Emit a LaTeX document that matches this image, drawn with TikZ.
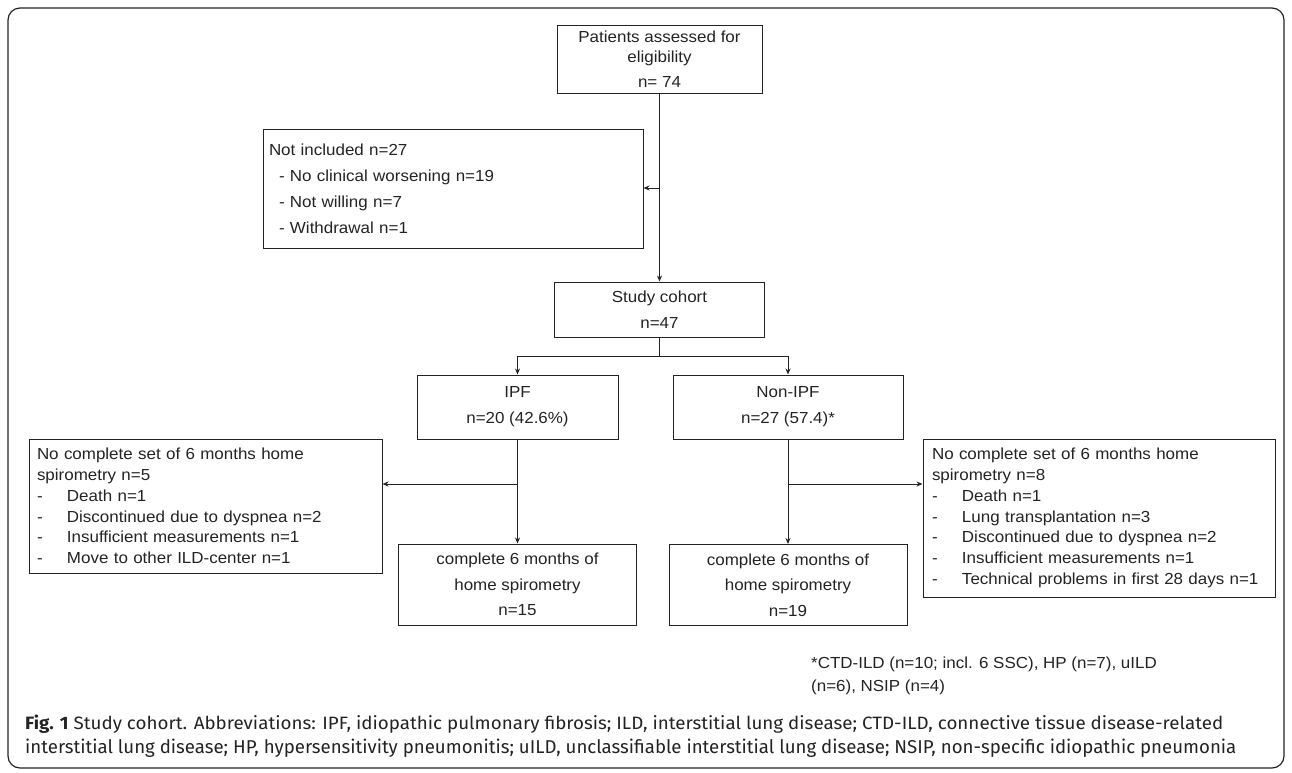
\documentclass[tikz,border=0pt]{standalone}
\usepackage{graphicx}
\usepackage{fontspec}
\setmainfont{Liberation Sans}[FakeStretch=1.06]
\newfontfamily\capfont{Fira Sans}
\usetikzlibrary{arrows.meta}
\definecolor{ink}{RGB}{35,35,35}
\newcommand{\dsh}{\makebox[30pt][l]{-}}
\begin{document}
\begin{tikzpicture}[x=1pt,y=-1pt,
  box/.style={draw=ink,line width=1pt,align=center,inner sep=0pt,text=ink,font=\fontsize{16}{26}\selectfont},
  side/.style={draw=ink,line width=1pt,align=left,inner ysep=0pt,text=ink,font=\fontsize{16}{20.8}\selectfont},
  arr/.style={draw=ink,line width=1pt,-{Stealth[length=6pt,width=5pt]}}]
\useasboundingbox (0,0) rectangle (1292,772);
\draw[ink,line width=1.2pt,rounded corners=12pt] (8,8) rectangle (1284,768);

\node[box,minimum width=205pt,minimum height=68pt,font=\fontsize{16}{20}\selectfont] (assess) at (659.5,59) {Patients assessed for\\eligibility\\[5pt]n= 74};
\node[side,text width=368pt,inner xsep=6pt,minimum height=119pt,font=\fontsize{16}{26}\selectfont] (notinc) at (453,188.5) {Not included n=27\\\hspace*{10pt}- No clinical worsening n=19\\\hspace*{10pt}- Not willing n=7\\\hspace*{10pt}- Withdrawal n=1};
\node[box,minimum width=210pt,minimum height=55pt] (cohort) at (659.5,309.5) {Study cohort\\n=47};
\node[box,minimum width=201pt,minimum height=64pt] (ipf) at (517.5,407) {IPF\\n=20 (42.6\%)};
\node[box,minimum width=230pt,minimum height=64pt] (nonipf) at (788,407) {Non-IPF\\n=27 (57.4)*};
\node[side,text width=337pt,inner xsep=8pt,minimum height=134pt] (ipfout) at (205.5,506) {No complete set of 6 months home\\spirometry n=5\\\dsh Death n=1\\\dsh Discontinued due to dyspnea n=2\\\dsh Insufficient measurements n=1\\\dsh Move to other ILD-center n=1};
\node[side,text width=334pt,inner xsep=9pt,minimum height=158pt] (nonout) at (1099,518) {No complete set of 6 months home\\spirometry n=8\\\dsh Death n=1\\\dsh Lung transplantation n=3\\\dsh Discontinued due to dyspnea n=2\\\dsh Insufficient measurements n=1\\\dsh Technical problems in first 28 days n=1};
\node[box,minimum width=238pt,minimum height=81pt,font=\fontsize{16}{25.5}\selectfont] (ipfdone) at (517.5,584.5) {complete 6 months of\\home spirometry\\n=15};
\node[box,minimum width=238pt,minimum height=81pt,font=\fontsize{16}{25.5}\selectfont] (nondone) at (788,585) {complete 6 months of\\home spirometry\\n=19};

\coordinate (excl) at (659.5,188);
\coordinate (fork) at (659.5,356);
\coordinate (ipfsplit) at (517.5,484);
\coordinate (nonsplit) at (788,484);

\draw[arr] (assess) -- (cohort);
\draw[arr] (excl) -- (excl -| notinc.east);
\draw[ink,line width=1pt] (cohort) -- (fork);
\draw[arr] (fork) -| (ipf.north);
\draw[arr] (fork) -| (nonipf.north);
\draw[arr] (ipf) -- (ipfdone);
\draw[arr] (ipfsplit) -- (ipfsplit -| ipfout.east);
\draw[arr] (nonipf) -- (nondone);
\draw[arr] (nonsplit) -- (nonsplit -| nonout.west);

\node[anchor=north west,align=left,inner sep=0pt,text=ink,font=\fontsize{16}{23}\selectfont] (note) at (811,657) {*CTD-ILD (n=10; incl. 6 SSC), HP (n=7), uILD\\(n=6), NSIP (n=4)};
\node[anchor=base west,inner sep=0pt,text=ink] (cap1) at (25,729) {\resizebox{1198pt}{14.5pt}{\capfont\textbf{Fig. 1} Study cohort. Abbreviations: IPF, idiopathic pulmonary fibrosis; ILD, interstitial lung disease; CTD-ILD, connective tissue disease-related}};
\node[anchor=base west,inner sep=0pt,text=ink] (cap2) at (25,753) {\resizebox{1211pt}{14.5pt}{\capfont interstitial lung disease; HP, hypersensitivity pneumonitis; uILD, unclassifiable interstitial lung disease; NSIP, non-specific idiopathic pneumonia}};
\end{tikzpicture}
\end{document}
